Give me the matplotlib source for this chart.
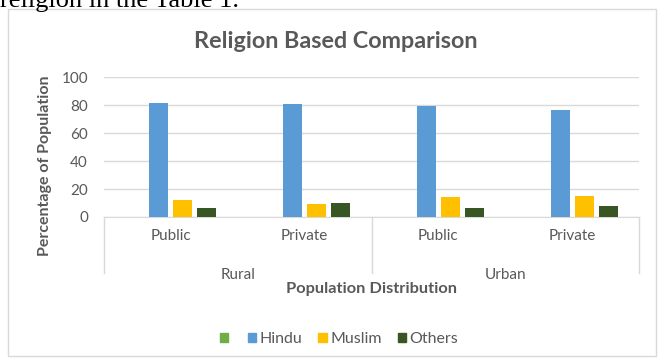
import numpy as np
import matplotlib.pyplot as plt
from matplotlib.patches import Rectangle, Patch
from matplotlib.lines import Line2D

# survey shares by area and school type
areas = ['Rural', 'Urban']
types = ['Public', 'Private', 'Public', 'Private']
hindu = [81.9, 81.2, 79.1, 76.3]
muslim = [12.1, 9.5, 14.6, 15.3]
others = [6.4, 10.2, 6.5, 8.2]
blank = [0, 0, 0, 0]

W, H = 665, 361
txt = '#595959'
grid = '#D9D9D9'

plt.rcParams['font.family'] = ['Lato', 'DejaVu Sans']

fig = plt.figure(figsize=(W / 100, H / 100), dpi=100)

# outer chart frame
fig.patches.append(Rectangle((8 / W, 1 - 356 / H), 648 / W, 347 / H,
                             transform=fig.transFigure, fill=False,
                             edgecolor=grid, linewidth=1.0))
# page text above the chart, cut by the page edge
fig.text(0, 1 - 7 / H, 'religion in the Table 1.', family='Liberation Serif',
         fontsize=19, color='black', ha='left', va='baseline')

left, right = 104, 639
top, base = 77.3, 217
ax = fig.add_axes([left / W, 1 - base / H, (right - left) / W, (base - top) / H])

x = np.arange(len(types))
step = 24 / ((right - left) / 4)
bw = 19 / ((right - left) / 4)
series = [(blank, '#70AD47'), (hindu, '#5B9BD5'), (muslim, '#FFC000'), (others, '#375623')]
for i, (vals, col) in enumerate(series):
    ax.bar(x + (i - 1.5) * step, vals, width=bw, color=col, linewidth=0, zorder=3)

ax.set_xlim(-0.5, 3.5)
ax.set_ylim(0, 100)
ax.set_yticks(range(0, 101, 20))
ax.yaxis.grid(True, color=grid, linewidth=1.0, zorder=0)
ax.tick_params(axis='y', length=0, labelsize=11, labelcolor=txt, pad=11.5)
ax.tick_params(axis='x', length=0, labelsize=11, labelcolor=txt, pad=8.5)
ax.set_xticks(x)
ax.set_xticklabels(types)
for s in ['top', 'right', 'left']:
    ax.spines[s].set_visible(False)
ax.spines['bottom'].set_color(grid)

# two-level category axis: separators and group labels
px = ax.get_xaxis_transform()
sep_bottom = -(273 - base) / (base - top)
for xs in [-0.5, 1.5, 3.5]:
    ax.add_line(Line2D([xs, xs], [0, sep_bottom], transform=px, color=grid,
                       linewidth=1.0, clip_on=False))
for j, name in enumerate(areas):
    ax.text(2 * j + 0.5, -(275 - base) / (base - top), name, transform=px,
            ha='center', va='center', fontsize=11, color=txt)

ax.text(0.5, -(289 - base) / (base - top), 'Population Distribution',
        transform=ax.transAxes, ha='center', va='center', fontsize=11.8,
        fontweight='bold', color=txt)
fig.text(45 / W, 1 - 166 / H, 'Percentage of Population', rotation=90,
         ha='center', va='center', fontsize=11.5, fontweight='bold', color=txt)
fig.text(336 / W, 1 - 42 / H, 'Religion Based Comparison', ha='center',
         va='center', fontsize=16.8, fontweight='bold', color=txt)

handles = [Patch(color=c) for _, c in series]
fig.legend(handles, ['', 'Hindu', 'Muslim', 'Others'], loc='center',
           bbox_to_anchor=(339 / W, 1 - 339 / H), ncol=4, frameon=False,
           fontsize=11.5, labelcolor=txt, handlelength=0.55, handleheight=0.55,
           handletextpad=0.2, columnspacing=1.0)

fig.savefig('out.png', dpi=100)
